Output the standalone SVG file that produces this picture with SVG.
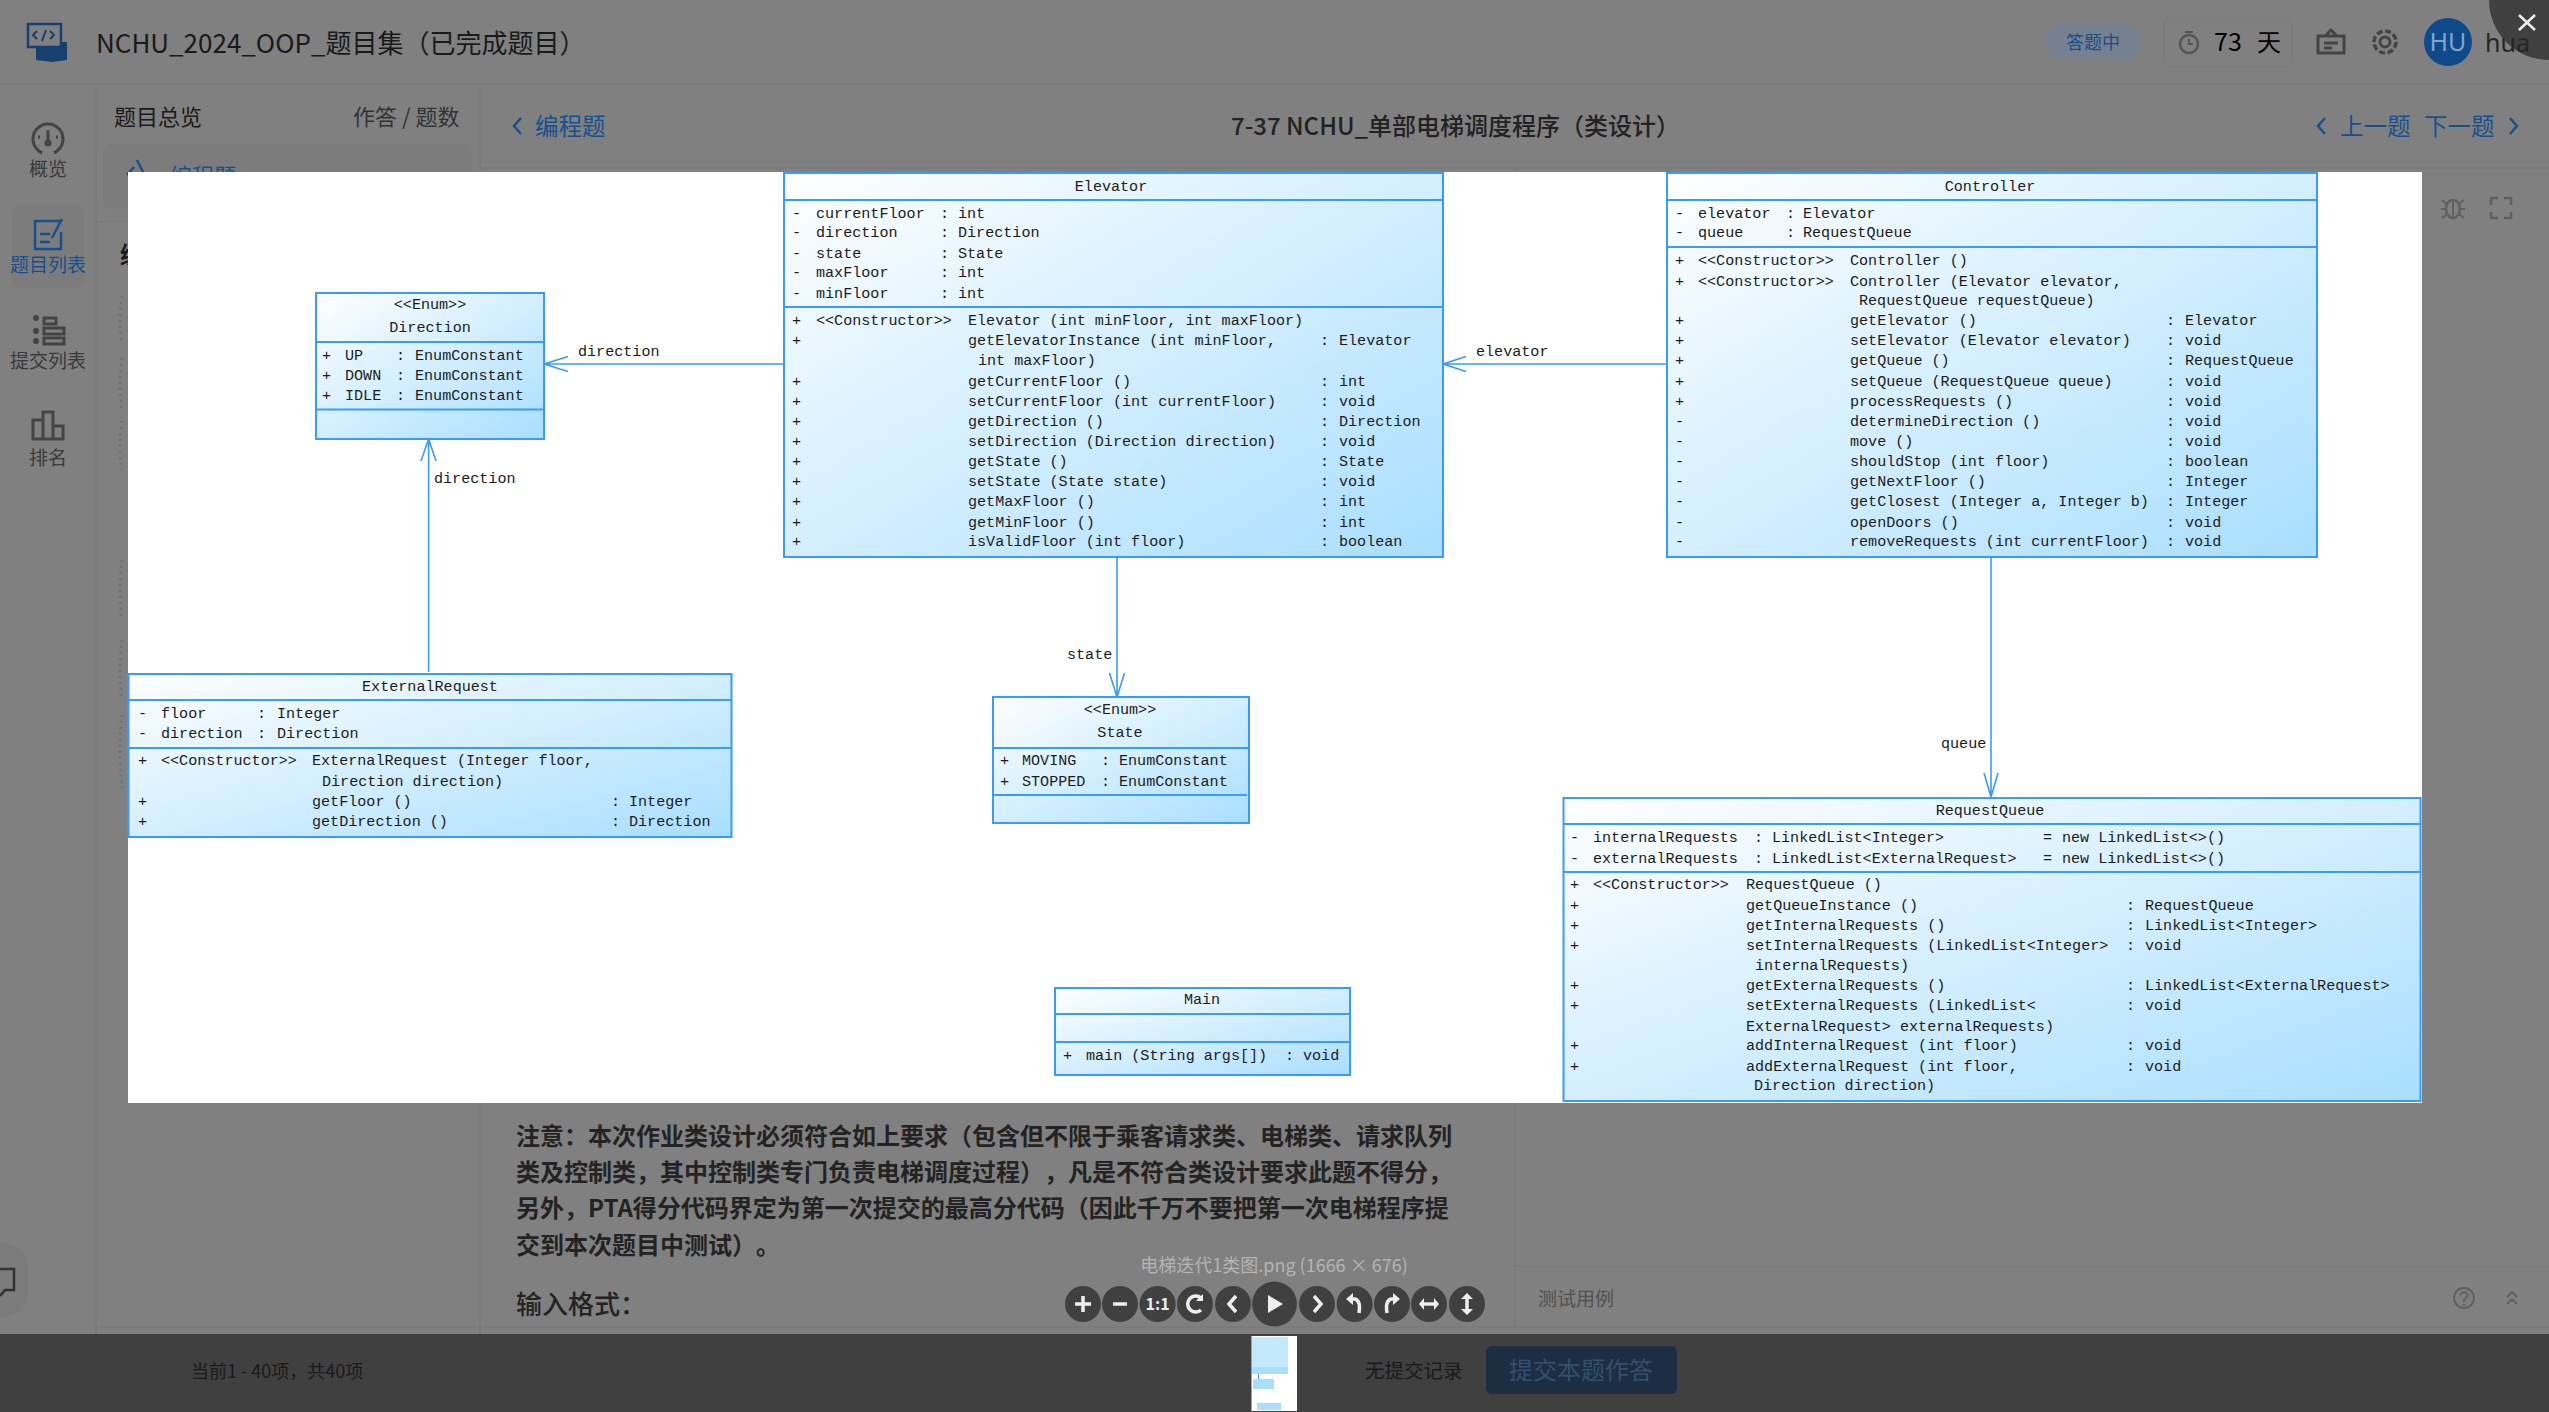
<svg xmlns="http://www.w3.org/2000/svg" width="2549" height="1412" viewBox="0 0 2549 1412">
<style>
text{font-family:"Noto Sans CJK SC","Noto Sans",sans-serif;fill:#1a1a1a;text-spacing-trim:space-all}
.m text,text.m{font-family:"Liberation Mono","Noto Sans CJK SC",monospace;font-size:15.1px;fill:#1c1c1c}
.c{text-anchor:middle}
.box{fill:url(#g);stroke:#3a9bff;stroke-width:2}
.div{stroke:#3a9bff;stroke-width:2;fill:none}
.con{stroke:#3a9bff;stroke-width:1.6;fill:none}
.ico{fill:none;stroke:#444;stroke-width:3}
.blue{fill:#17508f}
.nav{fill:none;stroke:#17508f;stroke-width:2.5}
.b{font-size:24px;font-weight:700;fill:#232323}
.tb{fill:#404040}
.ti{fill:none;stroke:#eee;stroke-width:3.5}
.tf{fill:#eee}
.dot{fill:none;stroke:#727272;stroke-width:3;stroke-dasharray:2 4}
</style>
<defs>
<linearGradient id="g" x1="0" y1="0" x2="1" y2="1"><stop offset="0" stop-color="#fff"/><stop offset="1" stop-color="#a8deff"/></linearGradient>
</defs>

<g id="page">
<rect width="2549" height="1412" fill="#808080"/>
<path d="M0 84H2549M480 168H2549M96 84V1412M480 84V1412M1515 168V1327M1515 1266H2549M96 1327H2549" stroke="#797979" stroke-width="1.5" fill="none"/>
</g>

<g id="header">
<path d="M36 42H67V60L52 62 36 60Z" fill="#17406f"/>
<path d="M28 24H61V47H28Z" fill="#808080" stroke="#17406f" stroke-width="2.5"/>
<path d="M37 31 33 35 37 39M42 41 46 30M50 31 54 35 50 39" fill="none" stroke="#17406f" stroke-width="2"/>
<text x="96" y="53" font-size="26">NCHU_2024_OOP_题目集（已完成题目）</text>
<rect x="2045" y="24" width="96" height="36" rx="18" fill="#76808f"/>
<text x="2093" y="49" class="c blue" font-size="18">答题中</text>
<rect x="2164" y="17" width="128" height="49" rx="8" fill="none" stroke="#797979"/>
<circle cx="2189" cy="44" r="9" fill="none" stroke="#555" stroke-width="2.5"/><path d="M2189 39V44H2193M2185 32H2193" stroke="#555" stroke-width="2" fill="none"/>
<text x="2214" y="51" font-size="25" style="fill:#000">73</text>
<text x="2257" y="51" font-size="24" style="fill:#000">天</text>
<path d="M2318 36H2344V53H2318ZM2325 36 2331 30 2337 36M2324 43H2338M2324 48H2332" class="ico" stroke-width="2.5"/>
<circle cx="2385" cy="42" r="5" class="ico"/><circle cx="2385" cy="42" r="11" fill="none" stroke="#444" stroke-width="3.5" stroke-dasharray="6 2.6"/>
<circle cx="2448" cy="42" r="24" fill="#0e4a8a"/>
<text x="2448" y="51" class="c" font-size="25" style="fill:#7fa6cf;font-family:'Noto Sans',sans-serif">HU</text>
<circle cx="2549" cy="0" r="60" fill="#404040"/>
<text x="2485" y="52" font-size="25" style="font-family:'Noto Sans',sans-serif;fill:#262626">hua</text>
<path d="M2519 15 2535 30M2535 15 2519 30" stroke="#eee" stroke-width="2.5"/>
</g>

<g id="sidebar">
<rect x="12" y="204" width="72" height="84" rx="8" fill="#7c7c7c"/>
<circle cx="48" cy="139" r="15" class="ico"/><circle cx="48" cy="143" r="3.5" fill="#444"/><path d="M48 130V140M38 137H40M56 137H58" class="ico" stroke-width="2.5"/><path d="M42 154H54" stroke="#808080" stroke-width="4"/>
<text x="48" y="176" class="c" font-size="19" style="fill:#3a3a3a">概览</text>
<path d="M62 221H35V249H61V232M62 219 52 238M40 234H50M40 242H50" class="nav" stroke-width="3.5"/>
<text x="48" y="272" class="c blue" font-size="19">题目列表</text>
<path d="M44 318H56V324H44ZM44 328H64V334H44ZM44 338H64V344H44Z" class="ico" stroke-width="2.5"/><circle cx="36" cy="318" r="3" fill="#444"/><circle cx="36" cy="331" r="3" fill="#444"/><circle cx="36" cy="341" r="3" fill="#444"/>
<text x="48" y="368" class="c" font-size="19" style="fill:#3a3a3a">提交列表</text>
<path d="M33 439V420H43V439ZM43 439V412H53V439ZM53 439V426H63V439Z" class="ico" stroke-width="3"/>
<text x="48" y="465" class="c" font-size="19" style="fill:#3a3a3a">排名</text>
</g>

<g id="overview">
<text x="114" y="125" font-size="22">题目总览</text>
<text x="353" y="125" font-size="22" style="fill:#333">作答 / 题数</text>
<rect x="103" y="144" width="369" height="66" rx="10" fill="#7c7c7c"/>
<text x="170" y="184" font-size="22" class="blue">编程题</text>
<path d="M127 175 134 167M137 160 145 176" stroke="#17508f" stroke-width="2.5"/>
<path d="M96 222H480" stroke="#797979"/>
<text x="120" y="264" font-size="24" style="font-weight:700">编</text>
<path class="dot" d="M122 296Q118 320 122 344M122 358Q118 384 122 410M122 421Q118 445 122 470M122 560Q118 590 122 620M122 640Q118 670 122 700M122 715Q118 745 122 788"/>
</g>

<g id="topnav">
<path d="M521 118 514 126 521 134" class="nav"/>
<text x="535" y="135" font-size="23.5" class="blue">编程题</text>
<text x="1231" y="135" font-size="24" style="font-weight:500;fill:#222">7-37 NCHU_单部电梯调度程序（类设计）</text>
<path d="M2325 118 2318 126 2325 134" class="nav"/>
<text x="2340" y="135" font-size="23.5" class="blue">上一题</text>
<text x="2424" y="135" font-size="23.5" class="blue">下一题</text>
<path d="M2510 118 2517 126 2510 134" class="nav"/>
<ellipse cx="2453" cy="209" rx="7" ry="9" fill="none" stroke="#606060" stroke-width="2.5"/><path d="M2442 200 2447 204M2464 200 2459 204M2441 209H2446M2465 209H2460M2442 218 2447 214M2464 218 2459 214M2453 200V218" stroke="#606060" stroke-width="2"/>
<path d="M2491 205V198H2498M2504 198H2511V205M2511 212V218H2504M2498 218H2491V212" fill="none" stroke="#606060" stroke-width="2.5"/>
</g>

<g id="problem-text">
<text x="516" y="1145" class="b">注意：本次作业类设计必须符合如上要求（包含但不限于乘客请求类、电梯类、请求队列</text>
<text x="516" y="1181" class="b">类及控制类，其中控制类专门负责电梯调度过程），凡是不符合类设计要求此题不得分，</text>
<text x="516" y="1217" class="b">另外，PTA得分代码界定为第一次提交的最高分代码（因此千万不要把第一次电梯程序提</text>
<text x="516" y="1254" class="b">交到本次题目中测试）。</text>
<text x="516" y="1314" font-size="26" style="font-weight:500;fill:#232323">输入格式：</text>
<text x="1538" y="1306" font-size="19" style="fill:#505050">测试用例</text>
<circle cx="2464" cy="1298" r="10" fill="none" stroke="#606060" stroke-width="2"/><path d="M2460 1295Q2464 1289 2468 1295Q2467 1298 2464 1300V1302M2464 1304V1306" fill="none" stroke="#606060" stroke-width="2"/>
<path d="M2507 1297 2512 1292 2517 1297M2507 1304 2512 1299 2517 1304" fill="none" stroke="#606060" stroke-width="2"/>
<rect x="-30" y="1243" width="58" height="74" rx="26" fill="#7b7b7b"/>
<path d="M0 1269H14V1290H5L0 1296" fill="none" stroke="#333" stroke-width="2.5"/>
</g>

<g id="viewer-toolbar">
<text x="1274" y="1272" class="c" font-size="18" style="fill:#b4b4b4">电梯迭代1类图.png (1666 × 676)</text>
<circle cx="1083" cy="1304" r="18" class="tb"/><path d="M1075 1304H1091M1083 1296V1312" class="ti"/>
<circle cx="1120" cy="1304" r="18" class="tb"/><path d="M1113 1304H1127" class="ti"/>
<circle cx="1157.6" cy="1304" r="18" class="tb"/><text x="1157.6" y="1310" class="c" font-size="16" style="fill:#eee;font-weight:700">1:1</text>
<circle cx="1195" cy="1304" r="18" class="tb"/><path d="M1201 1298A8 8 0 1 0 1201 1310" class="ti"/><path d="M1203 1294V1301H1196Z" class="tf"/>
<circle cx="1233" cy="1304" r="18" class="tb"/><path d="M1236 1296 1229 1304 1236 1312" class="ti"/>
<circle cx="1274.5" cy="1304" r="22.5" class="tb"/><path d="M1268 1295 1283 1304 1268 1313Z" class="tf"/>
<circle cx="1317" cy="1304" r="18" class="tb"/><path d="M1314 1296 1321 1304 1314 1312" class="ti"/>
<circle cx="1354.6" cy="1304" r="18" class="tb"/><path d="M1352 1299H1355Q1361 1301 1359 1313" class="ti"/><path d="M1353 1293V1305L1346 1299Z" class="tf"/>
<circle cx="1392" cy="1304" r="18" class="tb"/><path d="M1394 1299H1391Q1385 1301 1387 1313" class="ti"/><path d="M1393 1293V1305L1400 1299Z" class="tf"/>
<circle cx="1429" cy="1304" r="18" class="tb"/><path d="M1422 1304H1436" class="ti"/><path d="M1424 1298V1310L1419 1304ZM1434 1298V1310L1439 1304Z" class="tf"/>
<circle cx="1467" cy="1304" r="18" class="tb"/><path d="M1467 1297V1311" class="ti"/><path d="M1461 1299H1473L1467 1293ZM1461 1309H1473L1467 1315Z" class="tf"/>
</g>

<g id="footer">
<rect y="1334" width="2549" height="78" fill="#404040"/>
<path d="M96 1334V1412M480 1334V1412" stroke="#3a3a3a"/>
<text x="191" y="1378" font-size="18">当前1 - 40项，共40项</text>
<rect x="1251.5" y="1336" width="45.5" height="75" fill="#fff"/>
<rect x="1252" y="1337" width="36" height="30" fill="#c4e8fc"/>
<rect x="1252" y="1367" width="36" height="7" fill="#a8deff"/>
<rect x="1258" y="1374" width="1" height="5" fill="#3a9bff"/>
<rect x="1253" y="1379" width="21" height="10" fill="#a8deff"/>
<rect x="1257" y="1403" width="24" height="7" fill="#a8deff"/>
<text x="1365" y="1378" font-size="19.5">无提交记录</text>
<rect x="1486" y="1346" width="191" height="48" rx="6" fill="#1d2d42"/>
<text x="1581" y="1379" class="c" font-size="24" style="fill:#34506f">提交本题作答</text>
</g>

<rect id="image-bg" x="128" y="172" width="2294" height="931" fill="#fff"/>

<g id="connectors">
<path class="con" d="M784 364H544M568 356.5 544 364 568 371.5"/>
<path class="con" d="M1666 364H1443M1466 356.5 1443 364 1466 371.5"/>
<path class="con" d="M428.6 672V439M421 461 428.6 439 436 461"/>
<path class="con" d="M1117 557V697M1109.5 673 1117 697 1124.5 673"/>
<path class="con" d="M1991 557V797M1984 773 1991 797 1998 773"/>
<g class="m">
<text x="578" y="356">direction</text>
<text x="1476" y="356">elevator</text>
<text x="434" y="483">direction</text>
<text x="1067" y="659">state</text>
<text x="1941" y="748">queue</text>
</g>
</g>

<g id="Direction" class="m">
<rect class="box" x="316" y="293" width="228" height="146"/>
<path class="div" d="M316 342H544M316 409.5H544"/>
<text x="430" y="309" class="c">&lt;&lt;Enum&gt;&gt;</text>
<text x="430" y="332" class="c">Direction</text>
<text x="322" y="360">+</text><text x="345" y="360">UP</text><text x="396" y="360">:</text><text x="415" y="360">EnumConstant</text>
<text x="322" y="380">+</text><text x="345" y="380">DOWN</text><text x="396" y="380">:</text><text x="415" y="380">EnumConstant</text>
<text x="322" y="400">+</text><text x="345" y="400">IDLE</text><text x="396" y="400">:</text><text x="415" y="400">EnumConstant</text>
</g>

<g id="Elevator" class="m">
<rect class="box" x="784" y="173" width="659" height="384"/>
<path class="div" d="M784 200H1443M784 307H1443"/>
<text x="1111" y="191" class="c">Elevator</text>
<text x="792" y="218">-</text><text x="816" y="218">currentFloor</text><text x="940" y="218">:</text><text x="958" y="218">int</text>
<text x="792" y="237">-</text><text x="816" y="237">direction</text><text x="940" y="237">:</text><text x="958" y="237">Direction</text>
<text x="792" y="258">-</text><text x="816" y="258">state</text><text x="940" y="258">:</text><text x="958" y="258">State</text>
<text x="792" y="277">-</text><text x="816" y="277">maxFloor</text><text x="940" y="277">:</text><text x="958" y="277">int</text>
<text x="792" y="298">-</text><text x="816" y="298">minFloor</text><text x="940" y="298">:</text><text x="958" y="298">int</text>
<text x="792" y="325">+</text><text x="816" y="325">&lt;&lt;Constructor&gt;&gt;</text><text x="968" y="325">Elevator (int minFloor, int maxFloor)</text>
<text x="792" y="345">+</text><text x="968" y="345">getElevatorInstance (int minFloor,</text><text x="1320" y="345">:</text><text x="1339" y="345">Elevator</text>
<text x="978" y="365">int maxFloor)</text>
<text x="792" y="386">+</text><text x="968" y="386">getCurrentFloor ()</text><text x="1320" y="386">:</text><text x="1339" y="386">int</text>
<text x="792" y="406">+</text><text x="968" y="406">setCurrentFloor (int currentFloor)</text><text x="1320" y="406">:</text><text x="1339" y="406">void</text>
<text x="792" y="426">+</text><text x="968" y="426">getDirection ()</text><text x="1320" y="426">:</text><text x="1339" y="426">Direction</text>
<text x="792" y="446">+</text><text x="968" y="446">setDirection (Direction direction)</text><text x="1320" y="446">:</text><text x="1339" y="446">void</text>
<text x="792" y="466">+</text><text x="968" y="466">getState ()</text><text x="1320" y="466">:</text><text x="1339" y="466">State</text>
<text x="792" y="486">+</text><text x="968" y="486">setState (State state)</text><text x="1320" y="486">:</text><text x="1339" y="486">void</text>
<text x="792" y="506">+</text><text x="968" y="506">getMaxFloor ()</text><text x="1320" y="506">:</text><text x="1339" y="506">int</text>
<text x="792" y="527">+</text><text x="968" y="527">getMinFloor ()</text><text x="1320" y="527">:</text><text x="1339" y="527">int</text>
<text x="792" y="546">+</text><text x="968" y="546">isValidFloor (int floor)</text><text x="1320" y="546">:</text><text x="1339" y="546">boolean</text>
</g>

<g id="Controller" class="m">
<rect class="box" x="1667" y="173" width="650" height="384"/>
<path class="div" d="M1667 200H2317M1667 247H2317"/>
<text x="1990" y="191" class="c">Controller</text>
<text x="1675" y="218">-</text><text x="1698" y="218">elevator</text><text x="1786" y="218">:</text><text x="1803" y="218">Elevator</text>
<text x="1675" y="237">-</text><text x="1698" y="237">queue</text><text x="1786" y="237">:</text><text x="1803" y="237">RequestQueue</text>
<text x="1675" y="265">+</text><text x="1698" y="265">&lt;&lt;Constructor&gt;&gt;</text><text x="1850" y="265">Controller ()</text>
<text x="1675" y="286">+</text><text x="1698" y="286">&lt;&lt;Constructor&gt;&gt;</text><text x="1850" y="286">Controller (Elevator elevator,</text>
<text x="1859" y="305">RequestQueue requestQueue)</text>
<text x="1675" y="325">+</text><text x="1850" y="325">getElevator ()</text><text x="2166" y="325">:</text><text x="2185" y="325">Elevator</text>
<text x="1675" y="345">+</text><text x="1850" y="345">setElevator (Elevator elevator)</text><text x="2166" y="345">:</text><text x="2185" y="345">void</text>
<text x="1675" y="365">+</text><text x="1850" y="365">getQueue ()</text><text x="2166" y="365">:</text><text x="2185" y="365">RequestQueue</text>
<text x="1675" y="386">+</text><text x="1850" y="386">setQueue (RequestQueue queue)</text><text x="2166" y="386">:</text><text x="2185" y="386">void</text>
<text x="1675" y="406">+</text><text x="1850" y="406">processRequests ()</text><text x="2166" y="406">:</text><text x="2185" y="406">void</text>
<text x="1675" y="426">-</text><text x="1850" y="426">determineDirection ()</text><text x="2166" y="426">:</text><text x="2185" y="426">void</text>
<text x="1675" y="446">-</text><text x="1850" y="446">move ()</text><text x="2166" y="446">:</text><text x="2185" y="446">void</text>
<text x="1675" y="466">-</text><text x="1850" y="466">shouldStop (int floor)</text><text x="2166" y="466">:</text><text x="2185" y="466">boolean</text>
<text x="1675" y="486">-</text><text x="1850" y="486">getNextFloor ()</text><text x="2166" y="486">:</text><text x="2185" y="486">Integer</text>
<text x="1675" y="506">-</text><text x="1850" y="506">getClosest (Integer a, Integer b)</text><text x="2166" y="506">:</text><text x="2185" y="506">Integer</text>
<text x="1675" y="527">-</text><text x="1850" y="527">openDoors ()</text><text x="2166" y="527">:</text><text x="2185" y="527">void</text>
<text x="1675" y="546">-</text><text x="1850" y="546">removeRequests (int currentFloor)</text><text x="2166" y="546">:</text><text x="2185" y="546">void</text>
</g>

<g id="ExternalRequest" class="m">
<rect class="box" x="128.5" y="674" width="603" height="163"/>
<path class="div" d="M128.5 700H731M128.5 748H731"/>
<text x="430" y="691" class="c">ExternalRequest</text>
<text x="138" y="718">-</text><text x="161" y="718">floor</text><text x="257" y="718">:</text><text x="277" y="718">Integer</text>
<text x="138" y="738">-</text><text x="161" y="738">direction</text><text x="257" y="738">:</text><text x="277" y="738">Direction</text>
<text x="138" y="765">+</text><text x="161" y="765">&lt;&lt;Constructor&gt;&gt;</text><text x="312" y="765">ExternalRequest (Integer floor,</text>
<text x="322" y="786">Direction direction)</text>
<text x="138" y="806">+</text><text x="312" y="806">getFloor ()</text><text x="611" y="806">:</text><text x="629" y="806">Integer</text>
<text x="138" y="826">+</text><text x="312" y="826">getDirection ()</text><text x="611" y="826">:</text><text x="629" y="826">Direction</text>
</g>

<g id="State" class="m">
<rect class="box" x="993" y="697" width="256" height="126"/>
<path class="div" d="M993 748H1249M993 795H1247"/>
<text x="1120" y="714" class="c">&lt;&lt;Enum&gt;&gt;</text>
<text x="1120" y="737" class="c">State</text>
<text x="1000" y="765">+</text><text x="1022" y="765">MOVING</text><text x="1101" y="765">:</text><text x="1119" y="765">EnumConstant</text>
<text x="1000" y="786">+</text><text x="1022" y="786">STOPPED</text><text x="1101" y="786">:</text><text x="1119" y="786">EnumConstant</text>
</g>

<g id="Main" class="m">
<rect class="box" x="1055" y="988" width="295" height="87"/>
<path class="div" d="M1055 1014H1350M1055 1042H1350"/>
<text x="1202" y="1004" class="c">Main</text>
<text x="1063" y="1060">+</text><text x="1086" y="1060">main (String args[])</text><text x="1285" y="1060">:</text><text x="1303" y="1060">void</text>
</g>

<g id="RequestQueue" class="m">
<rect class="box" x="1563.5" y="798" width="857" height="303"/>
<path class="div" d="M1563.5 824H2420M1563.5 872H2420"/>
<text x="1990" y="815" class="c">RequestQueue</text>
<text x="1570" y="842">-</text><text x="1593" y="842">internalRequests</text><text x="1754" y="842">:</text><text x="1772" y="842">LinkedList&lt;Integer&gt;</text><text x="2043" y="842">=</text><text x="2062" y="842">new LinkedList&lt;&gt;()</text>
<text x="1570" y="863">-</text><text x="1593" y="863">externalRequests</text><text x="1754" y="863">:</text><text x="1772" y="863">LinkedList&lt;ExternalRequest&gt;</text><text x="2043" y="863">=</text><text x="2062" y="863">new LinkedList&lt;&gt;()</text>
<text x="1570" y="889">+</text><text x="1593" y="889">&lt;&lt;Constructor&gt;&gt;</text><text x="1746" y="889">RequestQueue ()</text>
<text x="1570" y="910">+</text><text x="1746" y="910">getQueueInstance ()</text><text x="2126" y="910">:</text><text x="2145" y="910">RequestQueue</text>
<text x="1570" y="930">+</text><text x="1746" y="930">getInternalRequests ()</text><text x="2126" y="930">:</text><text x="2145" y="930">LinkedList&lt;Integer&gt;</text>
<text x="1570" y="950">+</text><text x="1746" y="950">setInternalRequests (LinkedList&lt;Integer&gt;</text><text x="2126" y="950">:</text><text x="2145" y="950">void</text>
<text x="1755" y="970">internalRequests)</text>
<text x="1570" y="990">+</text><text x="1746" y="990">getExternalRequests ()</text><text x="2126" y="990">:</text><text x="2145" y="990">LinkedList&lt;ExternalRequest&gt;</text>
<text x="1570" y="1010">+</text><text x="1746" y="1010">setExternalRequests (LinkedList&lt;</text><text x="2126" y="1010">:</text><text x="2145" y="1010">void</text>
<text x="1746" y="1031">ExternalRequest&gt; externalRequests)</text>
<text x="1570" y="1050">+</text><text x="1746" y="1050">addInternalRequest (int floor)</text><text x="2126" y="1050">:</text><text x="2145" y="1050">void</text>
<text x="1570" y="1071">+</text><text x="1746" y="1071">addExternalRequest (int floor,</text><text x="2126" y="1071">:</text><text x="2145" y="1071">void</text>
<text x="1754" y="1090">Direction direction)</text>
</g>
</svg>
